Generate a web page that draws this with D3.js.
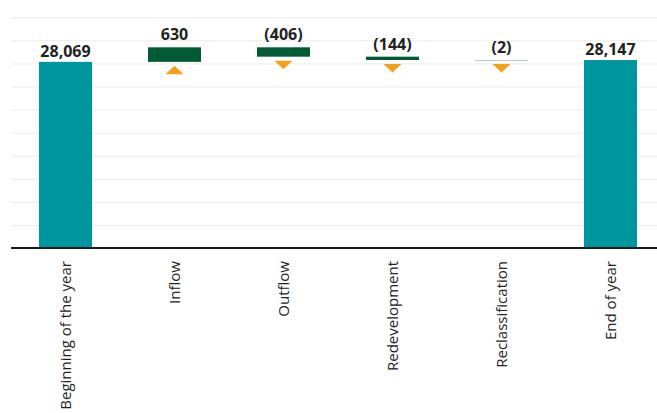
<!DOCTYPE html>
<html>
<head>
<meta charset="utf-8">
<script src="https://cdn.jsdelivr.net/npm/d3@7"></script>
<style>
  body { margin: 0; background: #fff; }
  text { font-family: "Open Sans", sans-serif; }
</style>
</head>
<body>
<div id="viz_container"></div>
<script>
// waterfall data
const categories = ["Beginning of the year", "Inflow", "Outflow", "Redevelopment", "Reclassification", "End of year"];
const values = [28069, 630, -406, -144, -2, 28147];
const kinds = ["total", "delta", "delta", "delta", "delta", "total"];
const yDomain = [20000, 30000];

// running start / end for each step
var running = 0;
var steps = categories.map(function(c, i) {
    var d = { name: c, value: values[i], kind: kinds[i] };
    if (d.kind === "total") {
        d.start = yDomain[0];
        d.end = d.value;
        running = d.value;
    } else {
        d.start = running;
        d.end = running + d.value;
        running = d.end;
    }
    return d;
});

var W = 657, H = 413;
var left = 11, baseY = 248, topY = 17.3;

var svg = d3.select("#viz_container").append("svg")
    .attr("width", W)
    .attr("height", H);

var x = d3.scaleBand().domain(categories).range([left, 665])
    .paddingInner(0.514).paddingOuter(0.257);
var y = d3.scaleLinear().domain(yDomain).range([baseY, topY]);

// gridlines
var yAxis = d3.axisLeft(y).ticks(10).tickSize(-(W - left)).tickFormat("");
svg.append("g")
    .attr("class", "grid")
    .attr("transform", "translate(" + left + ",0)")
    .call(yAxis)
    .call(g => g.select(".domain").remove())
    .call(g => g.selectAll(".tick line").attr("stroke", "#ecece4").attr("stroke-width", 1));

var colors = { total: "#0096a0", delta: "#005a34" };

// bars
svg.selectAll(".bar")
    .data(steps)
  .enter().append("rect")
    .attr("class", "bar")
    .attr("x", d => x(d.name))
    .attr("width", x.bandwidth())
    .attr("y", d => y(Math.max(d.start, d.end)))
    .attr("height", d => Math.max(1, Math.abs(y(d.start) - y(d.end))))
    .style("fill", d => colors[d.kind])
    .style("fill-opacity", d => Math.abs(y(d.start) - y(d.end)) < 1 ? 0.3 : 1);

// baseline
svg.append("line")
    .attr("x1", left).attr("x2", W)
    .attr("y1", baseY).attr("y2", baseY)
    .attr("stroke", "#1a1a1a").attr("stroke-width", 2);

// value labels
var fmt = d3.format(",");
svg.selectAll(".val")
    .data(steps)
  .enter().append("text")
    .attr("class", "val")
    .attr("x", d => x(d.name) + x.bandwidth() / 2)
    .attr("y", d => y(Math.max(d.start, d.end)) - (d.kind === "total" ? 5 : 7))
    .attr("text-anchor", "middle")
    .style("font-size", "16px")
    .style("font-weight", "bold")
    .style("fill", "#222")
    .text(d => d.value < 0 ? "(" + fmt(-d.value) + ")" : fmt(d.value));

// up / down markers under the change boxes
var tri = 9, triH = 8.5;
svg.selectAll(".arrow")
    .data(steps.filter(d => d.kind === "delta"))
  .enter().append("path")
    .attr("class", "arrow")
    .attr("d", function(d) {
        var cx = x(d.name) + x.bandwidth() / 2;
        var t = y(Math.min(d.start, d.end)) + 4;
        if (d.value > 0) {
            return "M" + (cx - tri) + "," + (t + triH) + "L" + (cx + tri) + "," + (t + triH) + "L" + cx + "," + t + "Z";
        }
        return "M" + (cx - tri) + "," + t + "L" + (cx + tri) + "," + t + "L" + cx + "," + (t + triH) + "Z";
    })
    .style("fill", "#f5a01a");

// category labels, rotated
svg.selectAll(".cat")
    .data(categories)
  .enter().append("text")
    .attr("class", "cat")
    .attr("transform", d => "translate(" + (x(d) + x.bandwidth() / 2) + ",261) rotate(-90)")
    .attr("text-anchor", "end")
    .attr("dy", "0.35em")
    .style("font-size", "15px")
    .style("fill", "#222")
    .text(d => d);
</script>
</body>
</html>
